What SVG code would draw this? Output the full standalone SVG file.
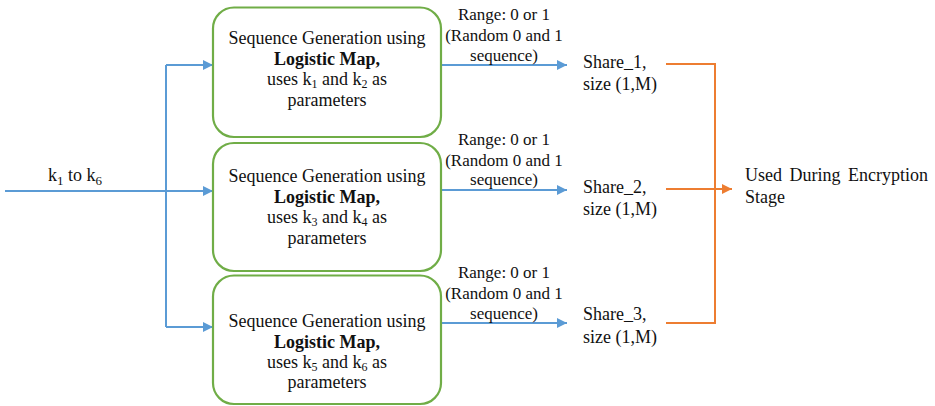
<svg xmlns="http://www.w3.org/2000/svg" width="935" height="406" viewBox="0 0 935 406" font-family="'Liberation Serif','Times New Roman',serif">
<style>
text{font-family:"Liberation Serif","Times New Roman",serif;fill:#111;}
.t{font-size:18px;}
.r{font-size:17px;}
.c{text-anchor:middle;}
.b{font-weight:bold;}
.box{fill:#fff;stroke:#70AD47;stroke-width:2.2;}
.bl{fill:none;stroke:#5B9BD5;stroke-width:2;}
.or{fill:none;stroke:#ED7D31;stroke-width:2;}
</style>
<defs>
<marker id="ab" viewBox="0 0 10 10" refX="10" refY="5" markerWidth="10" markerHeight="10" markerUnits="userSpaceOnUse" orient="auto"><path d="M0,0 L10,5 L0,10 z" fill="#5B9BD5"/></marker>
<marker id="ao" viewBox="0 0 10 10" refX="10" refY="5" markerWidth="10" markerHeight="10" markerUnits="userSpaceOnUse" orient="auto"><path d="M0,0 L10,5 L0,10 z" fill="#ED7D31"/></marker>
</defs>
<g id="connectors">
<path class="bl" d="M5,191 H166"/>
<path class="bl" d="M166,65 V327"/>
<path class="bl" d="M166,65 H213" marker-end="url(#ab)"/>
<path class="bl" d="M166,191 H213" marker-end="url(#ab)"/>
<path class="bl" d="M166,327 H213" marker-end="url(#ab)"/>
<path class="bl" d="M441,65 H567" marker-end="url(#ab)"/>
<path class="bl" d="M441,190 H567" marker-end="url(#ab)"/>
<path class="bl" d="M441,323 H567" marker-end="url(#ab)"/>
<path class="or" d="M666,64 H715 V323 H666"/>
<path class="or" d="M666,189 H732" marker-end="url(#ao)"/>
</g>
<g id="input">
<text class="t" x="48" y="181" font-size="19">k<tspan font-size="13" dy="4">1</tspan><tspan dy="-4"> to k</tspan><tspan font-size="13" dy="4">6</tspan></text>
</g>
<g id="box1">
<rect class="box" x="213" y="7.5" width="228" height="129.5" rx="21"/>
<text class="t c" x="327" y="44">Sequence Generation using</text>
<text class="t c b" x="327" y="64.5">Logistic Map,</text>
<text class="t c" x="327" y="85">uses k<tspan font-size="12" dy="3">1</tspan><tspan dy="-3"> and k</tspan><tspan font-size="12" dy="3">2</tspan><tspan dy="-3"> as</tspan></text>
<text class="t c" x="327" y="105.5">parameters</text>
</g>
<g id="box2">
<rect class="box" x="213" y="143" width="228" height="128" rx="21"/>
<text class="t c" x="327" y="182">Sequence Generation using</text>
<text class="t c b" x="327" y="202.5">Logistic Map,</text>
<text class="t c" x="327" y="223">uses k<tspan font-size="12" dy="3">3</tspan><tspan dy="-3"> and k</tspan><tspan font-size="12" dy="3">4</tspan><tspan dy="-3"> as</tspan></text>
<text class="t c" x="327" y="243.5">parameters</text>
</g>
<g id="box3">
<rect class="box" x="213" y="275.5" width="228" height="128.5" rx="21"/>
<text class="t c" x="327" y="327">Sequence Generation using</text>
<text class="t c b" x="327" y="347.5">Logistic Map,</text>
<text class="t c" x="327" y="368">uses k<tspan font-size="12" dy="3">5</tspan><tspan dy="-3"> and k</tspan><tspan font-size="12" dy="3">6</tspan><tspan dy="-3"> as</tspan></text>
<text class="t c" x="327" y="388">parameters</text>
</g>
<g id="range1">
<text class="r c" x="504" y="20">Range: 0 or 1</text>
<text class="r c" x="504" y="41">(Random 0 and 1</text>
<text class="r c" x="504" y="61">sequence)</text>
</g>
<g id="range2">
<text class="r c" x="504" y="145">Range: 0 or 1</text>
<text class="r c" x="504" y="166">(Random 0 and 1</text>
<text class="r c" x="504" y="185">sequence)</text>
</g>
<g id="range3">
<text class="r c" x="504" y="278">Range: 0 or 1</text>
<text class="r c" x="504" y="299">(Random 0 and 1</text>
<text class="r c" x="504" y="319">sequence)</text>
</g>
<g id="share1">
<text class="t" x="583" y="68">Share_1,</text>
<text class="t" x="583" y="90">size (1,M)</text>
</g>
<g id="share2">
<text class="t" x="583" y="193">Share_2,</text>
<text class="t" x="583" y="215">size (1,M)</text>
</g>
<g id="share3">
<text class="t" x="583" y="320">Share_3,</text>
<text class="t" x="583" y="343">size (1,M)</text>
</g>
<g id="output">
<text class="t" x="745" y="181" word-spacing="3">Used During Encryption</text>
<text class="t" x="745" y="203">Stage</text>
</g>
</svg>
